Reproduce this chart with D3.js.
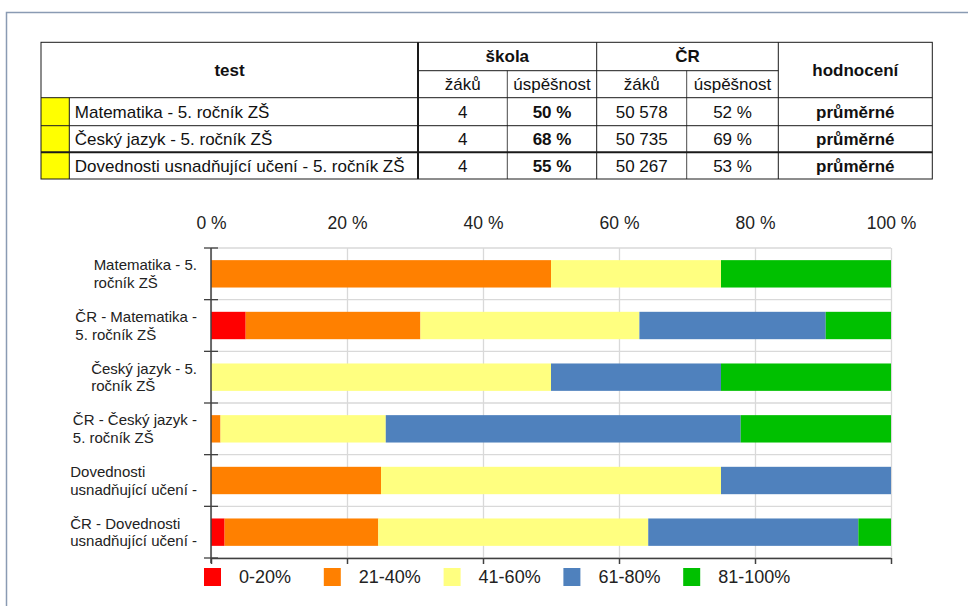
<!DOCTYPE html>
<html>
<head>
<meta charset="utf-8">
<script src="https://cdn.jsdelivr.net/npm/d3@7"></script>
<style>
  body { margin: 0; background: #fff; }
  svg { display: block; font-family: "Liberation Sans", Arial, sans-serif; }
</style>
</head>
<body>
<div id="chart"></div>
<script>
// table data
var tests = ["Matematika - 5. ročník ZŠ", "Český jazyk - 5. ročník ZŠ", "Dovednosti usnadňující učení - 5. ročník ZŠ"];
var schoolPupils = [4, 4, 4];
var schoolSuccess = [50, 68, 55];
var crPupils = [50578, 50735, 50267];
var crSuccess = [52, 69, 53];
var ratings = ["průměrné", "průměrné", "průměrné"];

// chart data (share of pupils per success band, %)
var categories = [
  "Matematika - 5. ročník ZŠ",
  "ČR - Matematika - 5. ročník ZŠ",
  "Český jazyk - 5. ročník ZŠ",
  "ČR - Český jazyk - 5. ročník ZŠ",
  "Dovednosti usnadňující učení - 5. ročník ZŠ",
  "ČR - Dovednosti usnadňující učení - 5. ročník ZŠ"
];
var bands = ["0-20%", "21-40%", "41-60%", "61-80%", "81-100%"];
var band0_20 = [0, 5.1, 0, 0, 0, 2.0];
var band21_40 = [50, 25.7, 0, 1.4, 25, 22.6];
var band41_60 = [25, 32.2, 50, 24.3, 50, 39.7];
var band61_80 = [0, 27.4, 25, 52.2, 25, 30.9];
var band81_100 = [25, 9.6, 25, 22.1, 0, 4.8];
var xTicks = [0, 20, 40, 60, 80, 100];

var colors = ["#ff0000", "#ff8000", "#ffff80", "#4f81bd", "#00c000"];

var W = 968, H = 606;
var svg = d3.select("#chart").append("svg").attr("width", W).attr("height", H);

// outer frame
svg.append("rect").attr("x", 6.5).attr("y", 12.5).attr("width", 1000).attr("height", 700)
  .style("fill", "none").style("stroke", "#8a9bb3").style("stroke-width", 1.5);

// ---------- table ----------
var colX = [41, 69.3, 418, 507.3, 596.7, 686.7, 778.3, 932.3];
var rowY = [42.3, 70.7, 97.7, 125.7, 152.3, 179];
var tbl = svg.append("g").attr("class", "table");
var lineColor = "#1a1a1a";

function hline(y, x1, x2, w) {
  tbl.append("line").attr("x1", x1).attr("x2", x2).attr("y1", y).attr("y2", y)
    .style("stroke", lineColor).style("stroke-width", w || 1);
}
function vline(x, y1, y2, w) {
  tbl.append("line").attr("x1", x).attr("x2", x).attr("y1", y1).attr("y2", y2)
    .style("stroke", lineColor).style("stroke-width", w || 1);
}
function cell(txt, x, y, anchor, bold) {
  tbl.append("text").attr("x", x).attr("y", y).attr("dy", "0.35em")
    .style("text-anchor", anchor || "middle")
    .style("font-size", "17px")
    .style("font-weight", bold ? "bold" : "normal")
    .style("fill", "#111")
    .text(txt);
}

// yellow markers
tests.forEach(function (t, i) {
  tbl.append("rect").attr("x", colX[0]).attr("y", rowY[i + 2])
    .attr("width", colX[1] - colX[0]).attr("height", rowY[i + 3] - rowY[i + 2])
    .style("fill", "#ffff00");
});

tbl.append("rect").attr("x", colX[0]).attr("y", rowY[0])
  .attr("width", colX[7] - colX[0]).attr("height", rowY[5] - rowY[0])
  .style("fill", "none").style("stroke", lineColor).style("stroke-width", 1);
hline(rowY[1], colX[2], colX[6]);
hline(rowY[2], colX[0], colX[7]);
hline(rowY[3], colX[0], colX[7]);
hline(rowY[4], colX[0], colX[7], 2);
vline(colX[1], rowY[2], rowY[5]);
vline(colX[2], rowY[0], rowY[5], 2);
vline(colX[3], rowY[1], rowY[5], 0.8);
vline(colX[4], rowY[0], rowY[5]);
vline(colX[5], rowY[1], rowY[5], 0.8);
vline(colX[6], rowY[0], rowY[5]);

function mid(a, b) { return (a + b) / 2; }
cell("test", mid(colX[0], colX[2]), mid(rowY[0], rowY[2]), "middle", true);
cell("škola", mid(colX[2], colX[4]), mid(rowY[0], rowY[1]), "middle", true);
cell("ČR", mid(colX[4], colX[6]), mid(rowY[0], rowY[1]), "middle", true);
cell("hodnocení", mid(colX[6], colX[7]), mid(rowY[0], rowY[2]), "middle", true);
cell("žáků", mid(colX[2], colX[3]), mid(rowY[1], rowY[2]));
cell("úspěšnost", mid(colX[3], colX[4]), mid(rowY[1], rowY[2]));
cell("žáků", mid(colX[4], colX[5]), mid(rowY[1], rowY[2]));
cell("úspěšnost", mid(colX[5], colX[6]), mid(rowY[1], rowY[2]));

var fmtPupils = function (n) { return d3.format(",")(n).replace(/,/g, " "); };
tests.forEach(function (t, i) {
  var cy = mid(rowY[i + 2], rowY[i + 3]);
  cell(t, colX[1] + 5.5, cy, "start");
  cell(schoolPupils[i], mid(colX[2], colX[3]), cy);
  cell(schoolSuccess[i] + " %", mid(colX[3], colX[4]), cy, "middle", true);
  cell(fmtPupils(crPupils[i]), mid(colX[4], colX[5]), cy);
  cell(crSuccess[i] + " %", mid(colX[5], colX[6]), cy);
  cell(ratings[i], mid(colX[6], colX[7]), cy, "middle", true);
});

// ---------- chart ----------
var plot = { left: 211, right: 891, top: 248, bottom: 558 };

var x = d3.scaleLinear().domain([0, 100]).range([plot.left, plot.right]);
var y = d3.scaleBand().domain(categories).range([plot.top, plot.bottom])
  .paddingInner(0.47).paddingOuter(0.235);

var rows = categories.map(function (c, i) {
  return { cat: c, "0-20%": band0_20[i], "21-40%": band21_40[i], "41-60%": band41_60[i],
           "61-80%": band61_80[i], "81-100%": band81_100[i] };
});
var series = d3.stack().keys(bands)(rows);

var chart = svg.append("g").attr("class", "chart");

// vertical gridlines
chart.append("g")
  .attr("transform", "translate(0," + plot.top + ")")
  .call(d3.axisBottom(x).tickValues(xTicks).tickSize(plot.bottom - plot.top).tickFormat(""))
  .call(function (g) {
    g.select(".domain").remove();
    g.selectAll("line").style("stroke", "#d9d9d9").style("stroke-width", 1.3);
  });

// horizontal band boundaries
var step = y.step();
var bounds = d3.range(categories.length + 1).map(function (i) { return plot.top + i * step; });
chart.append("g").selectAll("line").data(bounds).enter().append("line")
  .attr("x1", plot.left).attr("x2", plot.right)
  .attr("y1", function (d) { return d; }).attr("y2", function (d) { return d; })
  .style("stroke", "#d9d9d9").style("stroke-width", 1.3);

// bars
chart.append("g").selectAll("g").data(series).enter().append("g")
  .style("fill", function (d, i) { return colors[i]; })
  .selectAll("rect").data(function (d) { return d; }).enter().append("rect")
  .attr("x", function (d) { return x(d[0]); })
  .attr("width", function (d) { return x(d[1]) - x(d[0]); })
  .attr("y", function (d) { return y(d.data.cat); })
  .attr("height", y.bandwidth());

// top tick labels
chart.append("g")
  .attr("transform", "translate(0," + 223 + ")")
  .call(d3.axisTop(x).tickValues(xTicks).tickSize(0).tickPadding(0)
    .tickFormat(function (d) { return d + " %"; }))
  .call(function (g) {
    g.select(".domain").remove();
    g.selectAll("text").attr("y", 0).attr("dy", "0.35em")
      .style("font-family", "Liberation Sans, Arial, sans-serif")
      .style("font-size", "17.5px").style("fill", "#222");
  });

// bottom axis
chart.append("g")
  .attr("transform", "translate(0," + plot.bottom + ")")
  .call(d3.axisBottom(x).tickValues(xTicks).tickSize(6).tickFormat(""))
  .call(function (g) {
    g.select(".domain").attr("d", "M" + plot.left + ",0.5H" + plot.right)
      .style("stroke", "#404040").style("stroke-width", 1.5);
    g.selectAll(".tick line").style("stroke", "#404040").style("stroke-width", 1.5);
  });

// left axis with cross ticks
var left = chart.append("g");
left.append("line").attr("x1", plot.left).attr("x2", plot.left)
  .attr("y1", plot.top).attr("y2", plot.bottom + 5)
  .style("stroke", "#404040").style("stroke-width", 1.5);
left.selectAll("line.tk").data(bounds).enter().append("line").attr("class", "tk")
  .attr("x1", plot.left - 7).attr("x2", plot.left + 7)
  .attr("y1", function (d) { return d; }).attr("y2", function (d) { return d; })
  .style("stroke", "#404040").style("stroke-width", 1.3);

// category labels, wrapped to two lines, block right-aligned
var labelRight = 197, wrapWidth = 130, lineH = 17.7;
categories.forEach(function (c) {
  var t = chart.append("text")
    .style("font-size", "15px").style("fill", "#222");
  var words = c.split(/\s+/), lines = [], cur = [];
  var probe = t.append("tspan");
  words.forEach(function (w) {
    cur.push(w);
    probe.text(cur.join(" "));
    if (probe.node().getComputedTextLength() > wrapWidth && cur.length > 1) {
      cur.pop();
      lines.push(cur.join(" "));
      cur = [w];
    }
  });
  lines.push(cur.join(" "));
  probe.remove();
  lines = lines.slice(0, 2);
  var cy = y(c) + y.bandwidth() / 2;
  var spans = lines.map(function (l, i) {
    return t.append("tspan").attr("y", cy + (i - (lines.length - 1) / 2) * lineH)
      .attr("dy", "0.35em").text(l);
  });
  var maxW = d3.max(spans, function (s) { return s.node().getComputedTextLength(); });
  spans.forEach(function (s) { s.attr("x", labelRight - maxW); });
});

// legend
var legend = chart.append("g").attr("transform", "translate(204,577)");
var item = legend.selectAll("g").data(bands).enter().append("g")
  .attr("transform", function (d, i) { return "translate(" + (i * 119.8) + ",0)"; });
item.append("rect").attr("x", 0).attr("y", -9).attr("width", 17).attr("height", 18)
  .style("fill", function (d, i) { return colors[i]; });
item.append("text").attr("x", 35).attr("dy", "0.35em")
  .style("font-size", "18px").style("fill", "#222")
  .text(function (d) { return d; });
</script>
</body>
</html>
